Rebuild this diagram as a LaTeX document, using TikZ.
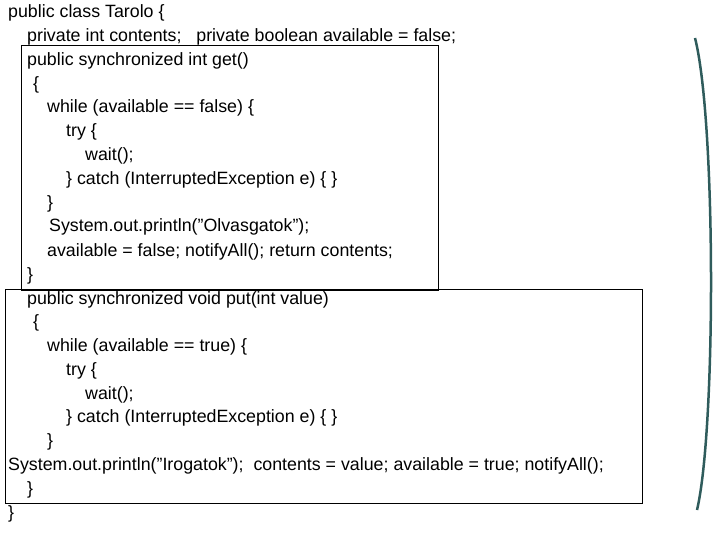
\documentclass[tikz,border=0pt]{standalone}
\usepackage{fontspec}
\setmainfont{Liberation Sans}
\usepackage{xcolor}
\definecolor{bracketgreen}{HTML}{2F5C5C}
\newcommand{\qt}{{\char34}}

\begin{document}
\begin{tikzpicture}[x=1pt,y=-1pt,
    code/.style={anchor=base west,inner sep=0pt,font=\fontsize{17.8}{20}\selectfont},
    frame/.style={draw=black,line width=0.8pt}]
    \useasboundingbox (0,0) rectangle (720,540);

    \draw[frame] (21,45) rectangle (438,290);
    \draw[frame] (5,289) rectangle (642,503);

    \node[code] (l1) at (8,18) {public class Tarolo \{};
    \node[code] (l2) at (27,42) {private int contents;\ \ \ private boolean available = false;};
    \node[code] (l3) at (27,66) {public synchronized int get()};
    \node[code] (l4) at (33,90) {\{};
    \node[code] (l5) at (47,113) {while (available == false) \{};
    \node[code] (l6) at (66,137) {try \{};
    \node[code] (l7) at (85,161) {wait();};
    \node[code] (l8) at (66,185) {\} catch (InterruptedException e) \{ \}};
    \node[code] (l9) at (47,208) {\}};
    \node[code] (l10) at (49,232) {System.out.println(\qt Olvasgatok\qt);};
    \node[code] (l11) at (47,256) {available = false; notifyAll(); return contents;};
    \node[code] (l12) at (27,280) {\}};
    \node[code] (l13) at (27,304) {public synchronized void put(int value)};
    \node[code] (l14) at (33,327) {\{};
    \node[code] (l15) at (47,351) {while (available == true) \{};
    \node[code] (l16) at (66,375) {try \{};
    \node[code] (l17) at (85,399) {wait();};
    \node[code] (l18) at (66,422) {\} catch (InterruptedException e) \{ \}};
    \node[code] (l19) at (47,446) {\}};
    \node[code] (l20) at (8,470) {System.out.println(\qt Irogatok\qt);\ \ contents = value; available = true; notifyAll();};
    \node[code] (l21) at (27,494) {\}};
    \node[code] (l22) at (8,518) {\}};

    % right bracket
    \draw[bracketgreen,line width=2.5pt] (695,38) .. controls (716,120) and (716,430) .. (697,510);
\end{tikzpicture}
\end{document}
